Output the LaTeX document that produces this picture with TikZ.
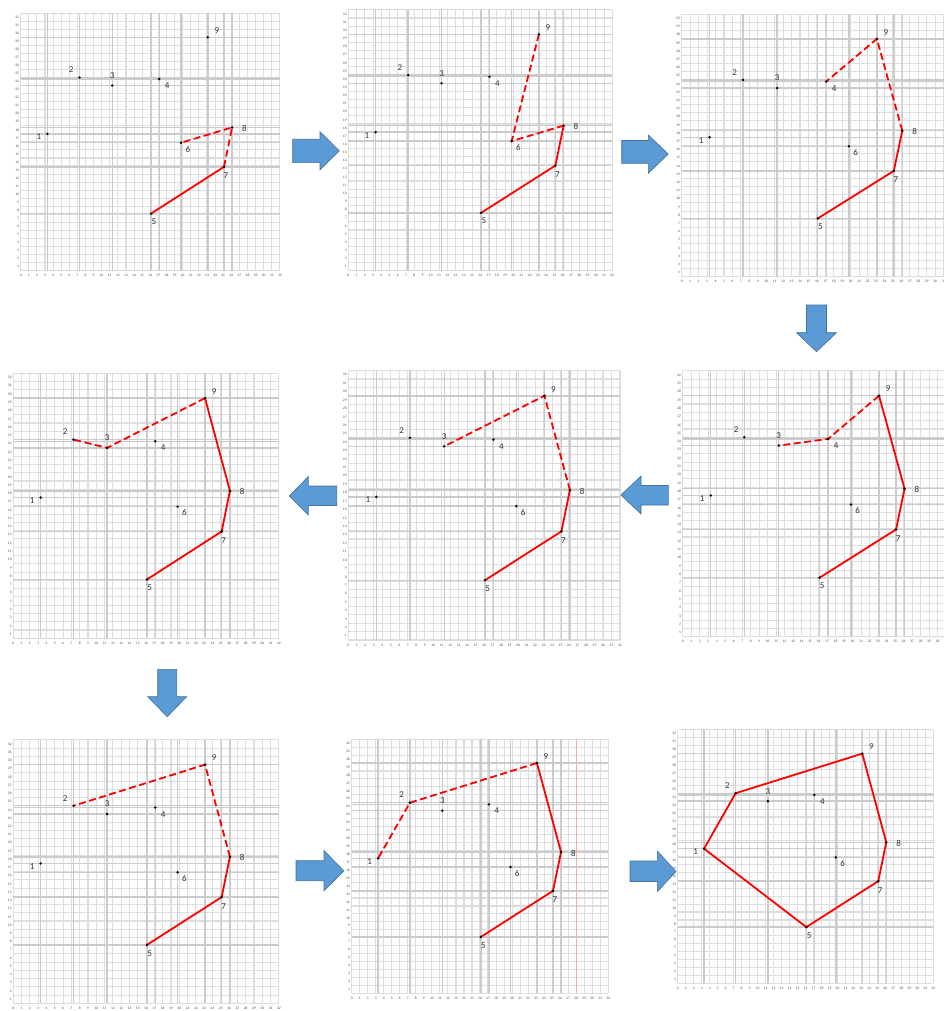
\documentclass[tikz,border=0pt]{standalone}
\usepackage{fontspec}
\setmainfont{Carlito}
\definecolor{arrowblue}{RGB}{91,155,213}
\definecolor{arrowedge}{RGB}{65,113,156}
\definecolor{gridgray}{RGB}{221,221,221}
\definecolor{griddark}{RGB}{203,203,203}
\tikzset{
  gridline/.style={draw=gridgray, line width=1.1pt},
  griddk/.style={draw=griddark, line width=1.4pt},
  ptlabel/.style={font=\fontsize{9}{9}\selectfont, text=black!80, inner sep=0pt},
  ticklabel/.style={font=\fontsize{3.6}{3.6}\selectfont, text=black!70, inner sep=0pt},
  hull/.style={draw=red, line width=1.8pt, line join=round, line cap=round},
  hulldash/.style={draw=red, line width=1.8pt, dash pattern=on 7pt off 3.5pt, line join=round},
  blockarrow/.style={fill=arrowblue, draw=arrowedge, line width=0.6pt, line join=miter},
}
% #1 prefix, #2 left px, #3 bottom px, #4 x unit, #5 y unit, #6 hull lines
\newcommand{\hullpanel}[6]{%
\begin{scope}[shift={(#2pt,-#3pt)}, x=#4pt, y=#5pt]
  \foreach \k in {0,...,32} {\draw[gridline] (\k,0) -- (\k,32); \draw[gridline] (0,\k) -- (32,\k);}
  \foreach \px/\py in {3.3/17,7.25/24,11.3/23,17.1/23.8,16.1/7.1,19.8/15.9,25.1/12.9,26.1/17.8,23.1/29}
    {\draw[griddk] (\px,0) -- (\px,32); \draw[griddk] (0,\py) -- (32,\py);}
  \foreach \k in {0,...,32} {\node[ticklabel, below=3.5pt] (#1x\k) at (\k,0) {\k};}
  \foreach \k in {1,...,32} {\node[ticklabel, left=1.5pt] (#1y\k) at (0,\k-0.5) {\k};}
  \foreach \n/\px/\py in {1/3.3/17,2/7.25/24,3/11.3/23,4/17.1/23.8,5/16.1/7.1,6/19.8/15.9,7/25.1/12.9,8/26.1/17.8,9/23.1/29}
    {\coordinate (#1\n) at (\px,\py);}
  #6
  \foreach \n/\lx/\ly in {1/-8.5/-3,2/-8.3/7.7,3/0/10,4/8/-6.7,5/2.7/-8.3,6/6.7/-6.3,7/2/-9,8/12.3/-1,9/9/6.7}
    {\fill[black] (#1\n) circle (1.4pt);
     \node[ptlabel] (#1l\n) at ([shift={(\lx pt,\ly pt)}]#1\n) {\n};}
\end{scope}}

\begin{document}
\begin{tikzpicture}[x=1pt, y=-1pt]
\useasboundingbox (0,0) rectangle (944,1011);
\fill[white] (0,0) rectangle (944,1011);
\clip (0,0) rectangle (944,1011);

% Row 1
\hullpanel{A}{20.7}{270.7}{8.1}{8.05}{%
  \draw[hull] (A5) -- (A7);
  \draw[hulldash] (A7) -- (A8) -- (A6);}
\hullpanel{B}{348.3}{270.7}{8.25}{8.15}{%
  \draw[hull] (B5) -- (B7) -- (B8);
  \draw[hulldash] (B8) -- (B6) -- (B9);}
\hullpanel{C}{681.7}{276.7}{8.45}{8.2}{%
  \draw[hull] (C5) -- (C7) -- (C8);
  \draw[hulldash] (C8) -- (C9) -- (C4);}

% Row 2
\hullpanel{D}{13.3}{638.3}{8.3}{8.28}{%
  \draw[hull] (D5) -- (D7) -- (D8) -- (D9);
  \draw[hulldash] (D9) -- (D3) -- (D2);}
\hullpanel{E}{348.3}{640}{8.49}{8.42}{%
  \draw[hull] (E5) -- (E7) -- (E8);
  \draw[hulldash] (E8) -- (E9) -- (E3);}
\hullpanel{F}{682.7}{636.7}{8.5}{8.31}{%
  \draw[hull] (F5) -- (F7) -- (F8) -- (F9);
  \draw[hulldash] (F9) -- (F4) -- (F3);}

% Row 3
\hullpanel{G}{13.3}{1003.3}{8.3}{8.23}{%
  \draw[hull] (G5) -- (G7) -- (G8);
  \draw[hulldash] (G8) -- (G9) -- (G2);}
\hullpanel{H}{351.7}{993.3}{8.02}{7.94}{%
  \draw[red!35, line width=0.8pt] (28,0) -- (28,32);
  \draw[hull] (H5) -- (H7) -- (H8) -- (H9);
  \draw[hulldash] (H9) -- (H2) -- (H1);}
\hullpanel{I}{677.7}{983.3}{7.99}{7.92}{%
  \draw[hull] (I5) -- (I7) -- (I8) -- (I9) -- (I2) -- (I1) -- cycle;}

% Block arrows
\draw[blockarrow] (292.7,139.3) -- (320,139.3) -- (320,131.7) -- (339.3,150.8) -- (320,170) -- (320,162.7) -- (292.7,162.7) -- cycle;
\draw[blockarrow] (621.7,140.5) -- (648.3,140.5) -- (648.3,135) -- (668.3,154) -- (648.3,173.3) -- (648.3,163.3) -- (621.7,163.3) -- cycle;
\draw[blockarrow] (806.5,305) -- (826.5,305) -- (826.5,332.7) -- (836.5,332.7) -- (816.5,351.7) -- (796.5,332.7) -- (806.5,332.7) -- cycle;
\draw[blockarrow] (668.3,485.5) -- (641,485.5) -- (641,476) -- (621,495) -- (641,514) -- (641,505) -- (668.3,505) -- cycle;
\draw[blockarrow] (336.7,486) -- (308.3,486) -- (308.3,476.5) -- (289.3,496) -- (308.3,515) -- (308.3,505.5) -- (336.7,505.5) -- cycle;
\draw[blockarrow] (157.7,669.3) -- (176.7,669.3) -- (176.7,696.7) -- (186.7,696.7) -- (167.2,716.7) -- (147.7,696.7) -- (157.7,696.7) -- cycle;
\draw[blockarrow] (296,860.7) -- (324,860.7) -- (324,850.5) -- (344,871) -- (324,890.7) -- (324,880.7) -- (296,880.7) -- cycle;
\draw[blockarrow] (630,861) -- (657.3,861) -- (657.3,851) -- (676,871.5) -- (657.3,891.7) -- (657.3,881.5) -- (630,881.5) -- cycle;
\end{tikzpicture}
\end{document}
